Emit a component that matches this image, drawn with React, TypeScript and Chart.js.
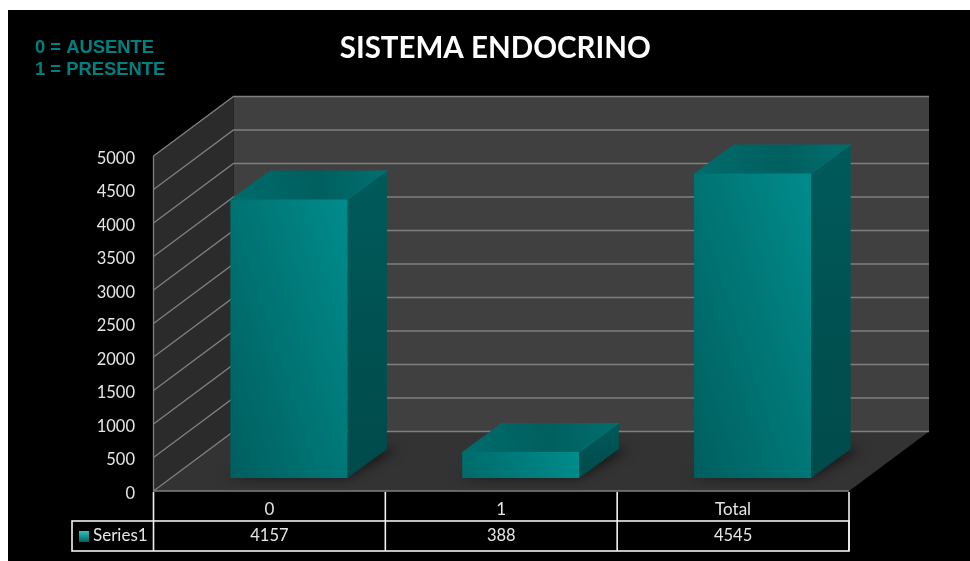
import React, { useEffect, useRef } from "react";
import { Chart, registerables } from "chart.js";

Chart.register(...registerables);

const categories = ["0", "1", "Total"];
const seriesName = "Series1";
const seriesValues = [4157, 388, 4545];
const noteLines = ["0 = AUSENTE", "1 = PRESENTE"];
const chartTitle = "SISTEMA ENDOCRINO";
const yMax = 5000;
const yStep = 500;

// Oblique projection: the vector from the front of the floor to the back wall,
// plus the placement and depth of the boxes inside that volume.
const WALL_DX = 80;
const WALL_DY = -59.5;
const BAR_SHIFT_X = 19.5;
const BAR_SHIFT_Y = -13;
const BAR_DX = 39.5;
const BAR_DY = -29;

const polygon = (ctx: CanvasRenderingContext2D, pts: number[][]) => {
  ctx.beginPath();
  pts.forEach(([x, y], i) => (i ? ctx.lineTo(x, y) : ctx.moveTo(x, y)));
  ctx.closePath();
};

// Walls, floor, gridlines and the side and top faces of each box.
const scenePlugin = {
  id: "scene3d",
  afterLayout(chart: any) {
    // Centre the title a little left of the plot, and sit the value labels just under their gridlines.
    chart.titleBlock.left -= 12;
    chart.scales.y.getLabelItems().forEach((item: any) => {
      item.textOffset += 2.5;
    });
  },
  beforeDatasetsDraw(chart: any) {
    const { ctx, chartArea: a, scales } = chart;
    const y = scales.y;
    const { left: L, right: R, bottom: B, top: T } = a;
    ctx.save();
    polygon(ctx, [[L + WALL_DX, T + WALL_DY], [R + WALL_DX, T + WALL_DY], [R + WALL_DX, B + WALL_DY], [L + WALL_DX, B + WALL_DY]]);
    ctx.fillStyle = "#404040";
    ctx.fill();
    polygon(ctx, [[L, T], [L + WALL_DX, T + WALL_DY], [L + WALL_DX, B + WALL_DY], [L, B]]);
    ctx.fillStyle = "#2b2b2b";
    ctx.fill();
    polygon(ctx, [[L, B], [L + WALL_DX, B + WALL_DY], [R + WALL_DX, B + WALL_DY], [R, B]]);
    ctx.fillStyle = "#333333";
    ctx.fill();

    ctx.strokeStyle = "#7f7f7f";
    ctx.lineWidth = 1.3;
    y.ticks.forEach((t: any) => {
      const py = y.getPixelForValue(t.value);
      ctx.beginPath();
      ctx.moveTo(L, py);
      ctx.lineTo(L + WALL_DX, py + WALL_DY);
      ctx.lineTo(R + WALL_DX, py + WALL_DY);
      ctx.stroke();
    });
    ctx.beginPath();
    ctx.moveTo(L, T);
    ctx.lineTo(L, B);
    ctx.lineTo(R, B);
    ctx.stroke();

    const bars = chart.getDatasetMeta(0).data;
    // Soft contact shadow on the floor.
    ctx.save();
    polygon(ctx, [[L, B], [L + WALL_DX, B + WALL_DY], [R + WALL_DX, B + WALL_DY], [R, B]]);
    ctx.clip();
    ctx.filter = "blur(6px)";
    ctx.fillStyle = "rgba(0,0,0,0.55)";
    bars.forEach((b: any) => {
      const x0 = b.x - b.width / 2 + BAR_SHIFT_X;
      const x1 = b.x + b.width / 2 + BAR_SHIFT_X;
      const by = b.base + BAR_SHIFT_Y;
      polygon(ctx, [[x0 - 8, by], [x1, by], [x1 + BAR_DX + 12, by + BAR_DY], [x1, by + BAR_DY]]);
      ctx.fill();
    });
    ctx.restore();

    bars.forEach((b: any) => {
      const x0 = b.x - b.width / 2 + BAR_SHIFT_X;
      const x1 = b.x + b.width / 2 + BAR_SHIFT_X;
      const top = b.y + BAR_SHIFT_Y;
      const bot = b.base + BAR_SHIFT_Y;
      const side = ctx.createLinearGradient(0, top + BAR_DY, 0, bot);
      side.addColorStop(0, "#005a5a");
      side.addColorStop(1, "#004a4a");
      polygon(ctx, [[x1, top], [x1 + BAR_DX, top + BAR_DY], [x1 + BAR_DX, bot + BAR_DY], [x1, bot]]);
      ctx.fillStyle = side;
      ctx.fill();
      const lid = ctx.createLinearGradient(x0, top, x1 + BAR_DX, top + BAR_DY);
      lid.addColorStop(0, "#006c6c");
      lid.addColorStop(0.55, "#005f5f");
      lid.addColorStop(1, "#006f6f");
      polygon(ctx, [[x0, top], [x0 + BAR_DX, top + BAR_DY], [x1 + BAR_DX, top + BAR_DY], [x1, top]]);
      ctx.fillStyle = lid;
      ctx.fill();
      ctx.strokeStyle = "#007272";
      ctx.lineWidth = 1;
      ctx.beginPath();
      ctx.moveTo(x1, top);
      ctx.lineTo(x1 + BAR_DX, top + BAR_DY);
      ctx.stroke();
    });
    ctx.restore();
  },
  // Front faces sit partway into the floor, so the bars are drawn shifted along the depth axis.
  beforeDatasetDraw(chart: any) {
    chart.ctx.save();
    chart.ctx.translate(BAR_SHIFT_X, BAR_SHIFT_Y);
  },
  afterDatasetDraw(chart: any) {
    chart.ctx.restore();
  },
};

// Data table under the plot, legend key, and the note at the top left.
const tablePlugin = {
  id: "dataTable",
  afterDraw(chart: any) {
    const { ctx, chartArea: a, scales } = chart;
    const { left: L, right: R, bottom: B } = a;
    const rowMid = B + 30;
    const rowEnd = B + 60;
    const legendLeft = 52;
    ctx.save();
    ctx.strokeStyle = "#f2f2f2";
    ctx.lineWidth = 1.6;
    const edges = categories.map((_, i) => L + ((R - L) * i) / categories.length).concat(R);
    edges.forEach((x) => {
      ctx.beginPath();
      ctx.moveTo(x, B + 1);
      ctx.lineTo(x, rowEnd);
      ctx.stroke();
    });
    ctx.strokeRect(legendLeft, rowMid, R - legendLeft, rowEnd - rowMid);

    ctx.font = "16.5px Lato";
    ctx.fillStyle = "#e6e6e6";
    ctx.textBaseline = "middle";
    ctx.textAlign = "center";
    seriesValues.forEach((v, i) => {
      ctx.fillText(String(v), scales.x.getPixelForValue(i), rowMid + 15);
    });
    ctx.font = "17px Lato";
    ctx.textAlign = "left";
    ctx.fillText(seriesName, 73, rowMid + 15);

    const key = ctx.createLinearGradient(0, rowMid + 10, 0, rowMid + 21);
    key.addColorStop(0, "#30c0c0");
    key.addColorStop(1, "#006060");
    ctx.fillStyle = key;
    ctx.fillRect(59, rowMid + 10, 10, 11);

    ctx.font = "bold 18.4px 'Liberation Sans'";
    ctx.fillStyle = "#008080";
    noteLines.forEach((line, i) => ctx.fillText(line, 15, 38 + i * 22));
    ctx.restore();
  },
};

export default function App() {
  const ref = useRef<HTMLCanvasElement>(null);
  useEffect(() => {
    const chart = new Chart(ref.current as HTMLCanvasElement, {
      type: "bar",
      data: {
        labels: categories,
        datasets: [
          {
            label: seriesName,
            data: seriesValues,
            barPercentage: 0.505,
            categoryPercentage: 1,
            clip: false,
            // Front faces brighten from the lower left to the upper right.
            backgroundColor: (c: any) => {
              const s = c.chart.scales;
              const base = s.y ? s.y.getPixelForValue(0) : NaN;
              const tip = s.y ? s.y.getPixelForValue(seriesValues[c.dataIndex]) : NaN;
              const cx = s.x ? s.x.getPixelForValue(c.dataIndex) : NaN;
              if (![base, tip, cx].every(Number.isFinite)) return "#007878";
              const halfW = 58.5;
              const reach = (2 * halfW * 3 + (base - tip)) / 10;
              const g = c.chart.ctx.createLinearGradient(cx - halfW, base, cx - halfW + 3 * reach, base - reach);
              g.addColorStop(0, base - tip < 60 ? "#006a6a" : "#005e5e");
              g.addColorStop(1, "#008c8c");
              return g;
            },
          } as any,
        ],
      },
      options: {
        animation: false,
        responsive: false,
        layout: { padding: { right: 121, top: 0, bottom: 0, left: 0 } },
        plugins: {
          legend: { display: false },
          tooltip: { enabled: false },
          title: {
            display: true,
            fullSize: false,
            text: chartTitle,
            color: "#ffffff",
            font: { family: "Lato", size: 29.5, weight: "bold" },
            padding: { top: 21, bottom: 89.6 },
          },
        },
        scales: {
          x: {
            grid: { display: false, drawTicks: false },
            border: { display: false },
            ticks: { color: "#e6e6e6", font: { family: "Lato", size: 17 }, padding: 8, maxRotation: 0 },
            afterFit: (s: any) => {
              s.height = 70;
            },
          },
          y: {
            min: 0,
            max: yMax,
            grid: { display: false, drawTicks: false },
            border: { display: false },
            ticks: {
              stepSize: yStep,
              color: "#e6e6e6",
              font: { family: "Lato", size: 16.5 },
              padding: 18.5,
              callback: (v: any) => String(v),
            },
            afterFit: (s: any) => {
              s.width = 133.5;
            },
          },
        },
      },
      plugins: [scenePlugin, tablePlugin],
    } as any);
    return () => chart.destroy();
  }, []);

  return (
    <div style={{ position: "absolute", left: 0, top: 0, width: 970, height: 561, background: "#ffffff", overflow: "hidden" }}>
      <div style={{ position: "absolute", left: 8, top: 10, width: 962, height: 551, background: "#000000" }} />
      <canvas ref={ref} width={950} height={551} style={{ position: "absolute", left: 20, top: 10, width: 950, height: 551 }} />
    </div>
  );
}
